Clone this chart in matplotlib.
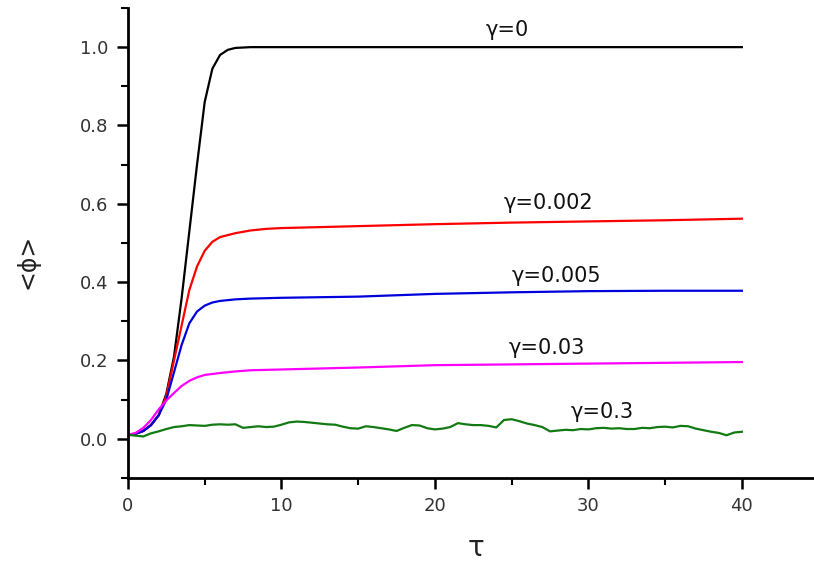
import numpy as np
import matplotlib
matplotlib.use('Agg')
import matplotlib.pyplot as plt
from matplotlib.ticker import MultipleLocator

plt.rcParams['font.family'] = ['DejaVu Sans']

# gamma = 0
tau_k = [0, 0.5, 1, 1.5, 2, 2.5, 3, 3.5, 4, 4.5, 5, 5.5, 6, 6.5, 7, 8, 40]
phi_k = [0.01, 0.013, 0.02, 0.035, 0.06, 0.115, 0.21, 0.36, 0.53, 0.70, 0.86,
         0.945, 0.98, 0.993, 0.998, 1.0, 1.0]

# gamma = 0.002
tau_r = [0, 0.5, 1, 1.5, 2, 2.5, 3, 3.5, 4, 4.5, 5, 5.5, 6, 7, 8, 9, 10,
         15, 20, 25, 30, 35, 40]
phi_r = [0.01, 0.013, 0.02, 0.035, 0.06, 0.11, 0.20, 0.29, 0.38, 0.44, 0.48,
         0.503, 0.515, 0.525, 0.532, 0.536, 0.538, 0.543, 0.548, 0.552,
         0.555, 0.558, 0.562]

# gamma = 0.005
tau_b = [0, 0.5, 1, 1.5, 2, 2.5, 3, 3.5, 4, 4.5, 5, 5.5, 6, 7, 8, 10,
         15, 20, 25, 30, 35, 40]
phi_b = [0.01, 0.013, 0.02, 0.035, 0.06, 0.10, 0.17, 0.24, 0.295, 0.325,
         0.34, 0.348, 0.352, 0.356, 0.358, 0.36, 0.363, 0.37, 0.374, 0.377,
         0.378, 0.378]

# gamma = 0.03
tau_m = [0, 0.5, 1, 1.5, 2, 2.5, 3, 3.5, 4, 4.5, 5, 6, 7, 8, 10,
         15, 20, 25, 30, 35, 40]
phi_m = [0.01, 0.015, 0.028, 0.048, 0.075, 0.098, 0.117, 0.135, 0.148,
         0.157, 0.163, 0.168, 0.172, 0.175, 0.177, 0.182, 0.188, 0.19,
         0.192, 0.194, 0.196]

# gamma = 0.3 (noisy)
tau_g = np.arange(0, 40.01, 0.5)
phi_g = [0.010, 0.008, 0.006, 0.014, 0.019, 0.025, 0.030, 0.032, 0.035, 0.034,
         0.033, 0.036, 0.037, 0.036, 0.037, 0.028, 0.030, 0.032, 0.030, 0.031,
         0.036, 0.042, 0.044, 0.043, 0.041, 0.039, 0.037, 0.036, 0.031, 0.027,
         0.026, 0.032, 0.030, 0.027, 0.024, 0.020, 0.028, 0.035, 0.034, 0.027,
         0.024, 0.026, 0.030, 0.040, 0.037, 0.035, 0.035, 0.033, 0.029, 0.048,
         0.050, 0.045, 0.039, 0.035, 0.030, 0.019, 0.021, 0.023, 0.022, 0.025,
         0.024, 0.027, 0.028, 0.026, 0.027, 0.025, 0.025, 0.028, 0.027, 0.030,
         0.031, 0.029, 0.033, 0.032, 0.026, 0.022, 0.018, 0.015, 0.009, 0.016,
         0.018]

labels = ["\u03b3=0", "\u03b3=0.002", "\u03b3=0.005", "\u03b3=0.03", "\u03b3=0.3"]
label_x = [24.7, 27.4, 27.9, 27.3, 30.9]
label_y = [1.044, 0.603, 0.415, 0.231, 0.069]

fig = plt.figure(figsize=(8.14, 5.61), dpi=100)
ax = fig.add_axes([0.1572, 0.148, 0.8428, 0.8378])

ax.plot(tau_k, phi_k, color='black', lw=1.6)
ax.plot(tau_r, phi_r, color='#ff0000', lw=1.6)
ax.plot(tau_b, phi_b, color='#0000dd', lw=1.6)
ax.plot(tau_m, phi_m, color='#ff00ff', lw=1.6)
ax.plot(tau_g, phi_g, color='#127a12', lw=1.6)

for t, x, y in zip(labels, label_x, label_y):
    ax.text(x, y, t, ha='center', va='center', fontsize=15, color='#111111')

ax.set_xlim(0, 44.7)
ax.set_ylim(-0.1, 1.1)
ax.xaxis.set_major_locator(MultipleLocator(10))
ax.xaxis.set_minor_locator(MultipleLocator(5))
ax.yaxis.set_minor_locator(MultipleLocator(0.1))
ax.set_yticks([0.0, 0.2, 0.4, 0.6, 0.8, 1.0])
ax.set_yticklabels(['0.0', '0.2', '0.4', '0.6', '0.8', '1.0'])

ax.spines['top'].set_visible(False)
ax.spines['right'].set_visible(False)
ax.spines['left'].set_linewidth(2)
ax.spines['bottom'].set_linewidth(2)
ax.tick_params(which='major', direction='out', length=8, width=1.8,
               labelsize=13, labelcolor='#333333', pad=6)
ax.tick_params(which='minor', direction='out', length=5, width=1.5)

fig.text(28 / 814, 1 - 261 / 561, "<\u03d5>", rotation=90, ha='center',
         va='center', fontsize=17, color='#222222')
fig.text(476 / 814, 1 - 548 / 561, "\u03c4", ha='center', va='center',
         fontsize=20, color='#222222')

fig.savefig('out.png', dpi=100)
